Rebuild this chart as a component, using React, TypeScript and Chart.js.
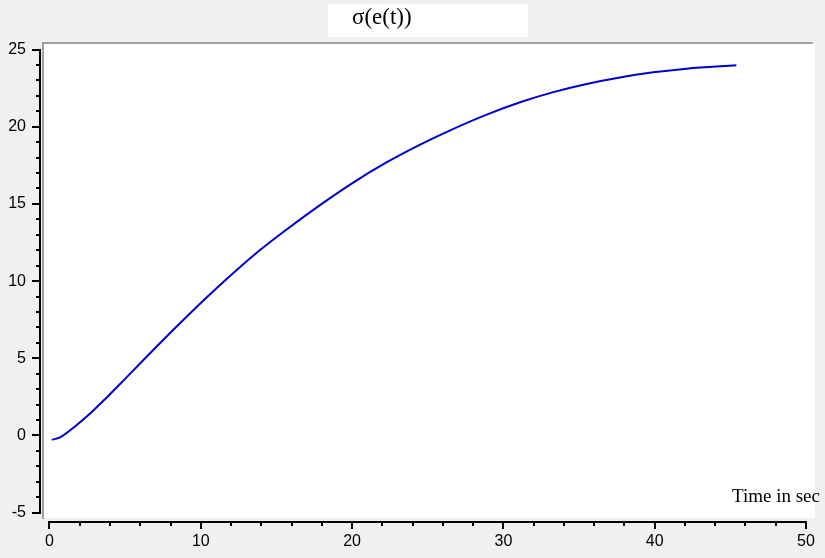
import React, { useEffect, useRef } from "react";
import { Chart, registerables } from "chart.js";

Chart.register(...registerables);

const TITLE = "σ(e(t))";
const X_LABEL = "Time in sec";

const TIME = [0.15, 0.7, 1.6, 2.7, 3.8, 4.9, 6.0, 7.1, 8.2, 9.3, 10.4, 11.6, 13.5, 15.7, 17.9, 20.1, 22.3, 24.5, 26.7, 28.9, 31.1, 33.3, 35.5, 37.7, 39.9, 42.1, 45.4];
const SIGMA = [-0.28, -0.12, 0.52, 1.44, 2.48, 3.57, 4.68, 5.78, 6.86, 7.92, 8.95, 10.04, 11.68, 13.36, 14.94, 16.4, 17.7, 18.84, 19.86, 20.78, 21.58, 22.24, 22.77, 23.19, 23.52, 23.76, 23.98];

const X_TICKS = [0, 10, 20, 30, 40, 50];
const Y_TICKS = [-5, 0, 5, 10, 15, 20, 25];
const X_RANGE = [-0.627, 50.594];
const Y_RANGE = [-5.603, 25.486];
const MINOR_DIV = 5;

export default function App() {
  const ref = useRef<HTMLCanvasElement>(null);

  useEffect(() => {
    const canvas = ref.current!;
    const decor = {
      id: "decor",
      beforeDraw(chart: any) {
        const { ctx, chartArea: a, width, height } = chart;
        ctx.save();
        ctx.fillStyle = "#f0f0f0";
        ctx.fillRect(0, 0, width, height);
        // plot background
        ctx.fillStyle = "#ffffff";
        ctx.fillRect(a.left + 4, a.top + 2, a.right - a.left - 4, a.bottom - 4 - (a.top + 2));
        ctx.fillStyle = "#a0a0a0";
        ctx.fillRect(a.left + 2, a.top, a.right - a.left - 4, 2);
        ctx.fillRect(a.left + 2, a.top, 2, a.bottom - 3 - a.top);
        // title box
        ctx.fillStyle = "#ffffff";
        ctx.fillRect(328, 4, 200, 33);
        ctx.fillStyle = "#000000";
        ctx.font = "23px 'Liberation Serif'";
        ctx.textBaseline = "alphabetic";
        ctx.textAlign = "left";
        ctx.fillText(TITLE, 352, 24);
        ctx.restore();
      },
      afterDraw(chart: any) {
        const { ctx, chartArea: a } = chart;
        const xs = chart.scales.x;
        const ys = chart.scales.y;
        ctx.save();
        ctx.fillStyle = "#000000";
        // y axis
        const yTop = ys.getPixelForValue(Y_TICKS[Y_TICKS.length - 1]);
        const yBot = ys.getPixelForValue(Y_TICKS[0]);
        ctx.fillRect(a.left - 1, Math.round(yTop) - 1, 2, Math.round(yBot - yTop) + 2);
        for (let i = 0; i < Y_TICKS.length; i++) {
          const p = Math.round(ys.getPixelForValue(Y_TICKS[i]));
          ctx.fillRect(a.left - 8, p - 1, 8, 2);
          if (i < Y_TICKS.length - 1) {
            const step = (Y_TICKS[i + 1] - Y_TICKS[i]) / MINOR_DIV;
            for (let k = 1; k < MINOR_DIV; k++) {
              const q = Math.round(ys.getPixelForValue(Y_TICKS[i] + k * step));
              ctx.fillRect(a.left - 4, q - 1, 4, 2);
            }
          }
        }
        // x axis
        const xL = xs.getPixelForValue(X_TICKS[0]);
        const xR = xs.getPixelForValue(X_TICKS[X_TICKS.length - 1]);
        ctx.fillRect(Math.round(xL) - 1, a.bottom - 1, Math.round(xR - xL) + 2, 2);
        for (let i = 0; i < X_TICKS.length; i++) {
          const p = Math.round(xs.getPixelForValue(X_TICKS[i]));
          ctx.fillRect(p - 1, a.bottom, 2, 7);
          if (i < X_TICKS.length - 1) {
            const step = (X_TICKS[i + 1] - X_TICKS[i]) / MINOR_DIV;
            for (let k = 1; k < MINOR_DIV; k++) {
              const q = Math.round(xs.getPixelForValue(X_TICKS[i] + k * step));
              ctx.fillRect(q - 1, a.bottom, 2, 4);
            }
          }
        }
        // axis label
        ctx.font = "19px 'Liberation Serif'";
        ctx.textBaseline = "alphabetic";
        ctx.textAlign = "left";
        ctx.fillText(X_LABEL, 732, 502);
        ctx.restore();
      },
    };

    const tickFont = { family: "'Liberation Sans', Arial, sans-serif", size: 16 };

    const chart = new Chart(canvas, {
      type: "line",
      data: {
        datasets: [
          {
            data: TIME.map((t, i) => ({ x: t, y: SIGMA[i] })),
            borderColor: "#0000cc",
            borderWidth: 2,
            pointRadius: 0,
            fill: false,
            cubicInterpolationMode: "monotone",
          },
        ],
      },
      options: {
        responsive: false,
        devicePixelRatio: 1,
        animation: false,
        layout: { padding: { top: 42, left: 0, right: 9, bottom: 0 } },
        plugins: {
          legend: { display: false },
          title: { display: false },
          tooltip: { enabled: false },
        },
        scales: {
          x: {
            type: "linear",
            min: X_RANGE[0],
            max: X_RANGE[1],
            afterBuildTicks: (s: any) => {
              s.ticks = X_TICKS.map((v) => ({ value: v }));
            },
            afterFit: (s: any) => {
              s.height = 36;
            },
            ticks: { font: tickFont, color: "#000", padding: 10, maxRotation: 0, autoSkip: false },
            grid: { display: false, drawTicks: false },
            border: { display: false },
          },
          y: {
            type: "linear",
            min: Y_RANGE[0],
            max: Y_RANGE[1],
            afterBuildTicks: (s: any) => {
              s.ticks = Y_TICKS.map((v) => ({ value: v }));
            },
            afterFit: (s: any) => {
              s.width = 40;
            },
            ticks: { font: tickFont, color: "#000", padding: 14, autoSkip: false },
            grid: { display: false, drawTicks: false },
            border: { display: false },
          },
        },
      },
      plugins: [decor],
    } as any);

    return () => chart.destroy();
  }, []);

  return (
    <div style={{ position: "fixed", left: 0, top: 0, width: 825, height: 558, background: "#f0f0f0" }}>
      <canvas ref={ref} width={825} height={558} style={{ display: "block" }} />
    </div>
  );
}
